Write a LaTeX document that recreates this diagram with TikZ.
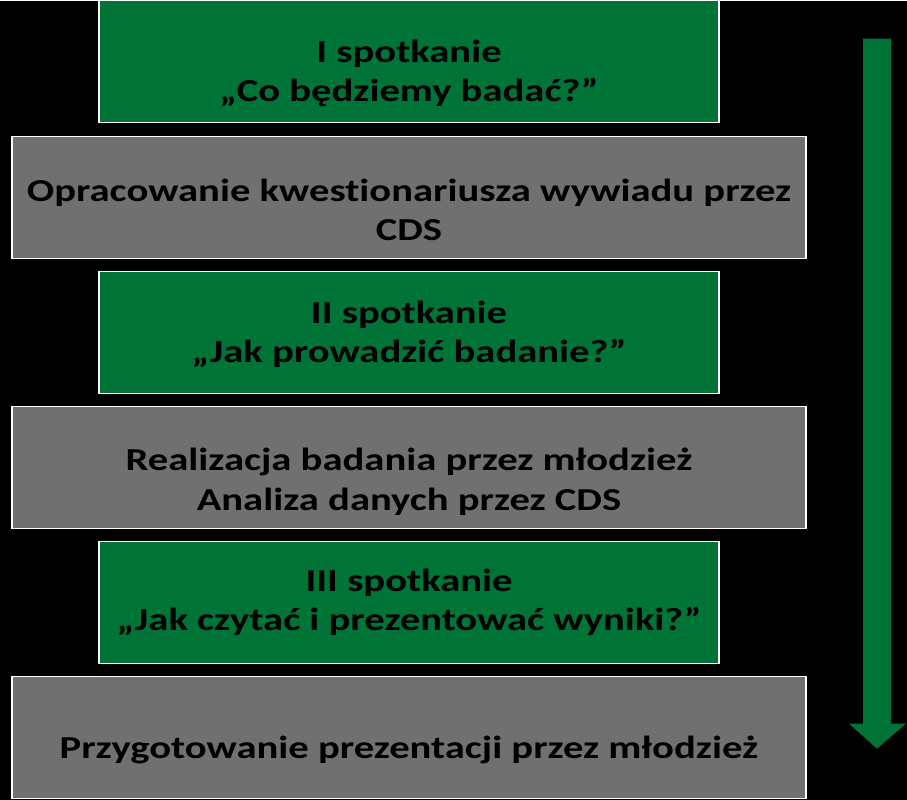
\documentclass[tikz,border=0pt]{standalone}
\usepackage{fontspec}
\setmainfont{Carlito}[FakeStretch=1.27,Ligatures=NoCommon]
\usetikzlibrary{positioning,calc}
\definecolor{stepgreen}{RGB}{0,116,55}
\definecolor{stepgray}{RGB}{112,112,112}

\begin{document}
\begin{tikzpicture}[x=1pt,y=-1pt,
  meeting/.style={draw=white,line width=1.3pt,fill=stepgreen,minimum width=620pt,minimum height=122pt,inner sep=0pt,align=center,text depth=0pt,font=\fontsize{32}{39.5}\selectfont\bfseries},
  work/.style={meeting,fill=stepgray,minimum width=794pt}]

\fill[black] (0,0) rectangle (907,799);

% boxes, top to bottom
\node[meeting,text height=80pt] (m1) at (409,61) {I spotkanie\\„Co będziemy badać?”};
\node[work,text height=86pt] (w1) at (409,197) {Opracowanie kwestionariusza wywiadu przez\\CDS};
\node[meeting,text height=60pt] (m2) at (409,332) {II spotkanie\\„Jak prowadzić badanie?”};
\node[work,text height=86pt] (w2) at (409,466.5) {Realizacja badania przez młodzież\\Analiza danych przez CDS};
\node[meeting,text height=57pt] (m3) at (409,601.5) {III spotkanie\\„Jak czytać i prezentować wyniki?”};
\node[work,text height=43pt] (w3) at (409,736.5) {Przygotowanie prezentacji przez młodzież};

% arrow on the right
\path
  (863,38) coordinate (a0)
  (891,38) coordinate (a1)
  (891,723) coordinate (a2)
  (906,723) coordinate (a3)
  (877,748) coordinate (a4)
  (849,723) coordinate (a5)
  (863,723) coordinate (a6);
\fill[stepgreen] (a0) -- (a1) -- (a2) -- (a3) -- (a4) -- (a5) -- (a6) -- cycle;

\end{tikzpicture}
\end{document}
